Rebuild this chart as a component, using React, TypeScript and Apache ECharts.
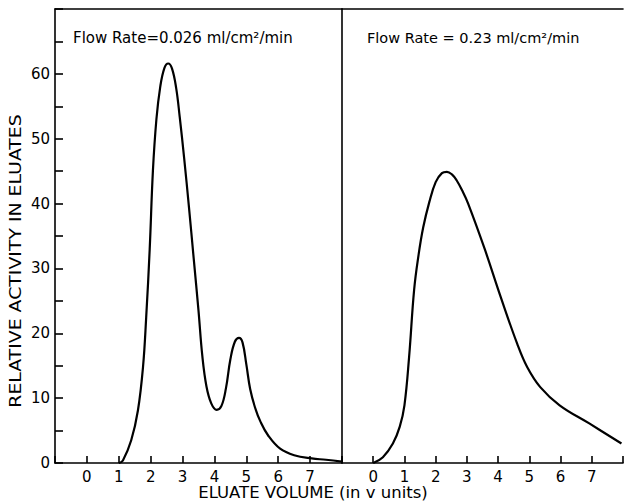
import React, { useEffect, useRef } from "react";
import * as echarts from "echarts";

const leftX = [1.0, 1.13, 1.39, 1.6, 1.76, 1.86, 1.97, 2.07, 2.18, 2.3, 2.43, 2.55, 2.67, 2.8, 2.91, 3.05, 3.2, 3.35, 3.5, 3.62, 3.75, 3.9, 4.07, 4.22, 4.36, 4.5, 4.64, 4.77, 4.88, 5.0, 5.12, 5.27, 5.45, 5.69, 6.06, 6.5, 7.05, 7.5, 8.0];
const leftY = [0, 0.4, 3.5, 8.1, 14.8, 22.5, 33.0, 45.0, 53.0, 58.0, 60.9, 61.6, 60.8, 57.8, 53.4, 47.0, 39.5, 31.5, 23.5, 16.5, 11.8, 9.2, 8.2, 8.8, 11.5, 16.0, 18.7, 19.3, 18.6, 15.2, 11.4, 8.6, 6.3, 4.2, 2.2, 1.2, 0.7, 0.5, 0.2];

const rightX = [0, 0.31, 0.63, 0.85, 1.0, 1.15, 1.31, 1.45, 1.6, 1.8, 2.0, 2.2, 2.36, 2.52, 2.67, 2.85, 3.04, 3.57, 4.09, 4.61, 4.93, 5.35, 5.97, 6.92, 7.95];
const rightY = [0, 0.9, 3.0, 5.6, 8.9, 16.4, 26.7, 32.0, 36.3, 40.3, 43.3, 44.7, 44.9, 44.5, 43.6, 42.0, 40.0, 33.0, 25.5, 18.4, 14.8, 11.7, 8.9, 6.1, 3.0];

const xTickLabels = ["0", "1", "2", "3", "4", "5", "6", "7"];
const yTickLabels = ["0", "10", "20", "30", "40", "50", "60"];

const yTitle = "RELATIVE ACTIVITY IN ELUATES";
const xTitle = "ELUATE VOLUME (in v units)";
const leftNote = "Flow Rate=0.026 ml/cm²/min";
const rightNote = "Flow Rate = 0.23 ml/cm²/min";

const FONT = "DejaVu Sans";

export default function App() {
  const ref = useRef<HTMLDivElement>(null);
  useEffect(() => {
    if (!ref.current) return;
    const chart = echarts.init(ref.current, null, { renderer: "svg" });
    const xLabelFmt = (v: number) => (xTickLabels.includes(String(v)) ? String(v) : "");
    const yLabelFmt = (v: number) => (yTickLabels.includes(String(v)) ? String(v) : "");
    const lineStyle = { color: "#000", width: 1.6 };
    const bottomX = (gridIndex: number) => ({
      type: "value",
      gridIndex,
      min: -1,
      max: 8,
      interval: 1,
      position: "bottom",
      axisLine: { show: true, onZero: false, lineStyle },
      axisTick: { show: true, inside: true, length: 7, lineStyle },
      axisLabel: { formatter: xLabelFmt, color: "#000", fontFamily: FONT, fontSize: 15, margin: 6 },
      splitLine: { show: false },
    });
    const topX = (gridIndex: number) => ({
      type: "value",
      gridIndex,
      min: -1,
      max: 8,
      position: "top",
      axisLine: { show: true, onZero: false, lineStyle },
      axisTick: { show: false },
      axisLabel: { show: false },
      splitLine: { show: false },
    });
    const curve = { color: "#000", width: 2.2 };
    chart.setOption({
      animation: false,
      grid: [
        { left: 55, top: 9, width: 287, height: 454 },
        { left: 342, top: 9, width: 286, height: 454 },
      ],
      xAxis: [bottomX(0), bottomX(1), topX(0), topX(1)],
      yAxis: [
        {
          type: "value",
          gridIndex: 0,
          min: 0,
          max: 70,
          interval: 5,
          axisLine: { show: true, onZero: false, lineStyle },
          axisTick: { show: true, inside: true, length: 8, lineStyle },
          axisLabel: { formatter: yLabelFmt, color: "#000", fontFamily: FONT, fontSize: 15, margin: 5 },
          splitLine: { show: false },
        },
        {
          type: "value",
          gridIndex: 1,
          min: 0,
          max: 70,
          interval: 5,
          axisLine: { show: true, onZero: false, lineStyle },
          axisTick: { show: false },
          axisLabel: { show: false },
          splitLine: { show: false },
        },
      ],
      series: [
        {
          type: "line",
          xAxisIndex: 0,
          yAxisIndex: 0,
          data: leftX.map((x, i) => [x, leftY[i]]),
          smooth: 0.4,
          showSymbol: false,
          lineStyle: curve,
        },
        {
          type: "line",
          xAxisIndex: 1,
          yAxisIndex: 1,
          data: rightX.map((x, i) => [x, rightY[i]]),
          smooth: 0.4,
          showSymbol: false,
          lineStyle: curve,
        },
      ],
      graphic: [
        {
          type: "text",
          x: 16,
          y: 261,
          rotation: Math.PI / 2,
          scaleX: 1.18,
          style: { text: yTitle, align: "center", verticalAlign: "middle", font: `16px "${FONT}"`, fill: "#000" },
        },
        {
          type: "text",
          x: 313,
          y: 493,
          scaleX: 1.1,
          style: { text: xTitle, align: "center", verticalAlign: "middle", font: `15px "${FONT}"`, fill: "#000" },
        },
        {
          type: "text",
          x: 73,
          y: 38,
          style: { text: leftNote, align: "left", verticalAlign: "middle", font: `15px "${FONT}"`, fill: "#000" },
        },
        {
          type: "text",
          x: 367,
          y: 38,
          style: { text: rightNote, align: "left", verticalAlign: "middle", font: `14.5px "${FONT}"`, fill: "#000" },
        },
      ],
    });
    return () => chart.dispose();
  }, []);
  return (
    <div
      ref={ref}
      style={{ position: "absolute", left: 0, top: 0, width: 626, height: 501, background: "#fff" }}
    />
  );
}
